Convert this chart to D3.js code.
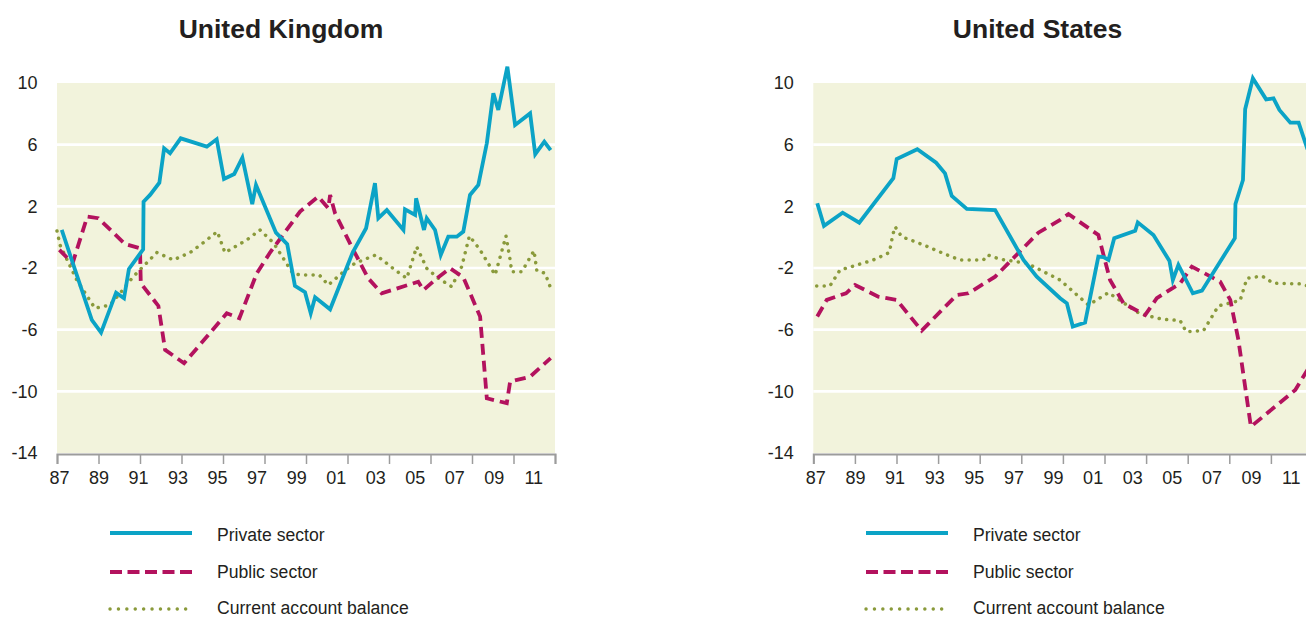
<!DOCTYPE html>
<html>
<head>
<meta charset="utf-8">
<script src="https://cdn.jsdelivr.net/npm/d3@7"></script>
<style>
  html, body { margin: 0; padding: 0; background: #ffffff; overflow: hidden; }
  svg { display: block; }
  text { font-family: "Liberation Sans", Arial, Helvetica, sans-serif; fill: #231f20; }
</style>
</head>
<body>
<svg id="chart" width="1306" height="618"></svg>
<script>
// ---------------- DATA ----------------
const panelTitles = ["United Kingdom", "United States"];
const yTickValues = [10, 6, 2, -2, -6, -10, -14];
const gridValues = [6, 2, -2, -6, -10];
const yearLabels = [1987, 1989, 1991, 1993, 1995, 1997, 1999, 2001, 2003, 2005, 2007, 2009, 2011];
const seriesNames = ["Private sector", "Public sector", "Current account balance"];

// United Kingdom, % of GDP, [year, value]
const ukPrivate = [
  [1987.24, 0.47], [1988.76, -5.37], [1989.23, -6.19], [1989.99, -3.6], [1990.39, -3.96],
  [1990.64, -2.06], [1991.36, -0.79], [1991.38, 2.3], [1991.71, 2.74], [1992.18, 3.53],
  [1992.42, 5.76], [1992.72, 5.44], [1993.26, 6.41], [1994.58, 5.87], [1995.08, 6.35],
  [1995.45, 3.77], [1995.97, 4.1], [1996.38, 5.16], [1996.88, 2.15], [1997.07, 3.39],
  [1998.08, 0.29], [1998.65, -0.46], [1999.04, -3.16], [1999.55, -3.57], [1999.84, -4.94],
  [2000.06, -3.9], [2000.82, -4.68], [2001.96, -1.0], [2002.64, 0.58], [2003.09, 3.5],
  [2003.26, 1.23], [2003.69, 1.76], [2004.53, 0.47], [2004.61, 1.81], [2005.12, 1.44],
  [2005.17, 2.52], [2005.57, 0.47], [2005.71, 1.23], [2006.13, 0.47], [2006.42, -1.15],
  [2006.80, 0.03], [2007.23, 0.03], [2007.56, 0.36], [2007.90, 2.74], [2008.32, 3.39],
  [2008.75, 6.09], [2009.08, 9.33], [2009.33, 8.25], [2009.79, 11.06], [2010.18, 7.28],
  [2010.94, 8.03], [2011.20, 5.38], [2011.66, 6.19], [2011.98, 5.65]
];
const ukPublic = [
  [1987.12, -0.83], [1987.79, -1.69], [1988.53, 1.33], [1989.09, 1.23], [1990.44, -0.44],
  [1991.20, -0.72], [1991.24, -2.99], [1992.13, -4.46], [1992.47, -7.31], [1993.43, -8.18],
  [1995.59, -4.94], [1996.23, -5.26], [1997.11, -2.34], [1997.78, -1.0], [1999.30, 1.66],
  [2000.22, 2.63], [2000.73, 1.87], [2000.82, 2.74], [2001.07, 1.55], [2001.91, -0.62],
  [2002.75, -2.67], [2003.43, -3.64], [2005.28, -2.89], [2005.54, -3.43], [2006.22, -2.67],
  [2006.89, -2.02], [2007.56, -2.6], [2008.41, -5.15], [2008.75, -10.45], [2009.76, -10.77],
  [2009.93, -9.37], [2010.94, -9.05], [2011.98, -7.85]
];
const ukCurrent = [
  [1987.0, 0.4], [1987.15, -0.5], [1988.0, -2.78], [1988.92, -4.61], [1989.68, -4.4],
  [1990.19, -3.64], [1990.86, -2.56], [1992.05, -1.0], [1992.89, -1.48], [1993.73, -1.0],
  [1994.40, -0.36], [1995.11, 0.36], [1995.50, -1.0], [1996.60, -0.18], [1997.27, 0.47],
  [1997.95, -0.36], [1998.93, -2.34], [1999.30, -2.45], [2000.27, -2.45], [2000.73, -3.1],
  [2001.41, -2.34], [2002.08, -1.69], [2003.14, -1.15], [2004.11, -2.13], [2004.70, -2.67],
  [2005.20, -0.62], [2005.71, -2.02], [2006.30, -2.67], [2006.97, -3.21], [2007.48, -1.91],
  [2007.87, 0.08], [2008.41, -0.83], [2009.17, -2.45], [2009.50, -0.94], [2009.72, 0.08],
  [2009.93, -1.48], [2010.01, -2.24], [2010.52, -2.24], [2011.14, -0.87], [2011.28, -2.17],
  [2011.70, -2.34], [2011.98, -3.31]
];

// United States, % of GDP, [year, value]
const usPrivate = [
  [1987.2, 2.2], [1987.54, 0.73], [1988.48, 1.59], [1989.32, 0.94], [1991.04, 3.82],
  [1991.21, 5.07], [1992.25, 5.7], [1993.2, 4.83], [1993.65, 4.14], [1993.99, 2.67],
  [1994.75, 1.83], [1996.18, 1.76], [1997.61, -1.48], [1998.28, -2.56], [1999.46, -3.96],
  [1999.8, -4.29], [2000.1, -5.8], [2000.72, -5.54], [2001.39, -1.26], [2001.65, -1.3],
  [2001.9, -1.48], [2002.19, -0.07], [2003.25, 0.42], [2003.38, 0.96], [2004.17, 0.14],
  [2004.98, -1.54], [2005.15, -2.78], [2005.43, -1.8], [2006.16, -3.64], [2006.62, -3.47],
  [2008.28, -0.07], [2008.31, 2.15], [2008.69, 3.71], [2008.8, 8.29], [2009.19, 10.3],
  [2009.86, 8.94], [2010.23, 9.0], [2010.53, 8.25], [2011.08, 7.43], [2011.5, 7.43],
  [2011.95, 5.7]
];
const usPublic = [
  [1987.2, -5.15], [1987.68, -4.07], [1988.65, -3.64], [1989.11, -3.1], [1990.28, -3.86],
  [1991.21, -4.07], [1992.47, -6.06], [1994.24, -3.75], [1994.83, -3.64], [1996.18, -2.56],
  [1998.36, 0.29], [1999.46, 1.12], [1999.88, 1.5], [2001.39, 0.14], [2001.98, -2.78],
  [2002.66, -4.29], [2003.75, -5.05], [2004.34, -3.96], [2005.52, -2.99], [2006.11, -1.91],
  [2007.54, -2.89], [2008.05, -4.07], [2008.46, -6.67], [2009.09, -12.29], [2011.33, -9.91],
  [2011.95, -8.6]
];
const usCurrent = [
  [1987.17, -3.16], [1987.84, -3.16], [1988.35, -2.13], [1989.19, -1.81], [1990.03, -1.48],
  [1990.84, -1.0], [1991.01, 0.14], [1991.13, 0.68], [1991.46, 0.03], [1992.56, -0.5],
  [1993.74, -1.15], [1994.41, -1.48], [1995.59, -1.48], [1995.79, -1.15], [1996.43, -1.43],
  [1997.78, -1.69], [1999.46, -2.78], [2000.89, -4.4], [2001.9, -3.6], [2003.5, -4.98],
  [2004.6, -5.32], [2005.52, -5.41], [2005.82, -6.13], [2006.7, -6.06], [2007.45, -4.46],
  [2008.55, -4.1], [2008.89, -2.67], [2009.65, -2.52], [2010.23, -2.99], [2011.58, -3.03],
  [2011.95, -3.16]
];

// ---------------- DRAWING ----------------
const COLORS = { private: "#0ba3c6", public: "#b3125e", current: "#8a9a3b" };
const BG = "#f2f3dc";
const AXIS_GRAY = "#9c9c9c";
const xDomain = [1987, 2012.2];
const yDomain = [-14, 10];

const svg = d3.select("#chart");

const panels = [
  { title: panelTitles[0], titleX: 281, left: 57, right: 555, legendX: 110,
    series: [ukPrivate, ukPublic, ukCurrent] },
  { title: panelTitles[1], titleX: 1037.5, left: 813.3, right: 1312.5, legendX: 866,
    series: [usPrivate, usPublic, usCurrent] }
];

const styles = [
  { color: COLORS.private, dash: null, width: 3.8, cap: "butt" },
  { color: COLORS.public, dash: "11 6", width: 3.8, cap: "butt" },
  { color: COLORS.current, dash: "0.1 7.4", width: 3.5, cap: "round" }
];
const legendDash = [null, "12 5.5", "0.1 8.3"];

panels.forEach(p => {
  const x = d3.scaleLinear().domain(xDomain).range([p.left, p.right]);
  const y = d3.scaleLinear().domain(yDomain).range([453, 83]);
  const g = svg.append("g");

  // title
  g.append("text")
    .attr("x", p.titleX).attr("y", 37.5)
    .attr("text-anchor", "middle")
    .style("font-size", "26.5px").style("font-weight", "bold")
    .text(p.title);

  // background
  g.append("rect")
    .attr("x", x(xDomain[0])).attr("y", y(yDomain[1]))
    .attr("width", x(xDomain[1]) - x(xDomain[0]))
    .attr("height", y(yDomain[0]) - y(yDomain[1]))
    .attr("fill", BG);

  // gridlines
  g.selectAll(".grid").data(gridValues).enter().append("line")
    .attr("x1", x(xDomain[0])).attr("x2", x(xDomain[1]))
    .attr("y1", d => y(d)).attr("y2", d => y(d))
    .attr("stroke", "#ffffff").attr("stroke-width", 2.6);

  // y axis labels
  const yAxis = d3.axisLeft(y).tickValues(yTickValues).tickSize(0).tickPadding(19.5)
    .tickFormat(d => String(d));
  const ya = g.append("g").attr("transform", `translate(${x(xDomain[0])},0)`).call(yAxis);
  ya.select(".domain").remove();
  ya.selectAll("text").style("font-size", "18px").attr("fill", "#231f20")
    .style("font-family", "'Liberation Sans', Arial, sans-serif");

  // x axis ticks (12 equal intervals)
  const tickPos = d3.range(13).map(i => xDomain[0] + i * (xDomain[1] - xDomain[0]) / 12);
  const xAxis = d3.axisBottom(x).tickValues(tickPos).tickSize(10).tickSizeOuter(10).tickFormat("");
  const xa = g.append("g").attr("transform", "translate(0,454)").call(xAxis);
  xa.select(".domain").attr("stroke", AXIS_GRAY).attr("stroke-width", 2);
  xa.selectAll(".tick line").attr("stroke", AXIS_GRAY).attr("stroke-width", 1.5);

  // x axis labels
  const xLab = d3.axisBottom(x).tickValues(yearLabels).tickSize(0).tickPadding(0)
    .tickFormat(d => String(d).slice(2));
  const xl = g.append("g").attr("transform", "translate(2,478)").call(xLab);
  xl.select(".domain").remove();
  xl.selectAll("text").attr("dy", "0.35em").style("font-size", "18px").attr("fill", "#231f20")
    .style("font-family", "'Liberation Sans', Arial, sans-serif");

  // series lines (current account drawn first, then public, then private)
  const line = d3.line().x(d => x(d[0])).y(d => y(d[1]));
  [2, 1, 0].forEach(i => {
    const s = styles[i];
    g.append("path")
      .datum(p.series[i])
      .attr("d", line)
      .attr("fill", "none")
      .attr("stroke", s.color)
      .attr("stroke-width", s.width)
      .attr("stroke-linejoin", "miter")
      .attr("stroke-linecap", s.cap)
      .attr("stroke-dasharray", s.dash);
  });

  // legend
  const legendY = [533, 572, 609];
  const textY = [535, 572, 607.5];
  const lg = g.append("g");
  seriesNames.forEach((name, i) => {
    lg.append("line")
      .attr("x1", p.legendX).attr("x2", p.legendX + 82)
      .attr("y1", legendY[i]).attr("y2", legendY[i])
      .attr("stroke", styles[i].color)
      .attr("stroke-width", i === 2 ? 3.4 : 4)
      .attr("stroke-linecap", i === 2 ? "round" : "butt")
      .attr("stroke-dasharray", legendDash[i]);
    lg.append("text")
      .attr("x", p.legendX + 107).attr("y", textY[i])
      .attr("dominant-baseline", "central")
      .style("font-size", "17.6px")
      .text(name);
  });
});
</script>
</body>
</html>
